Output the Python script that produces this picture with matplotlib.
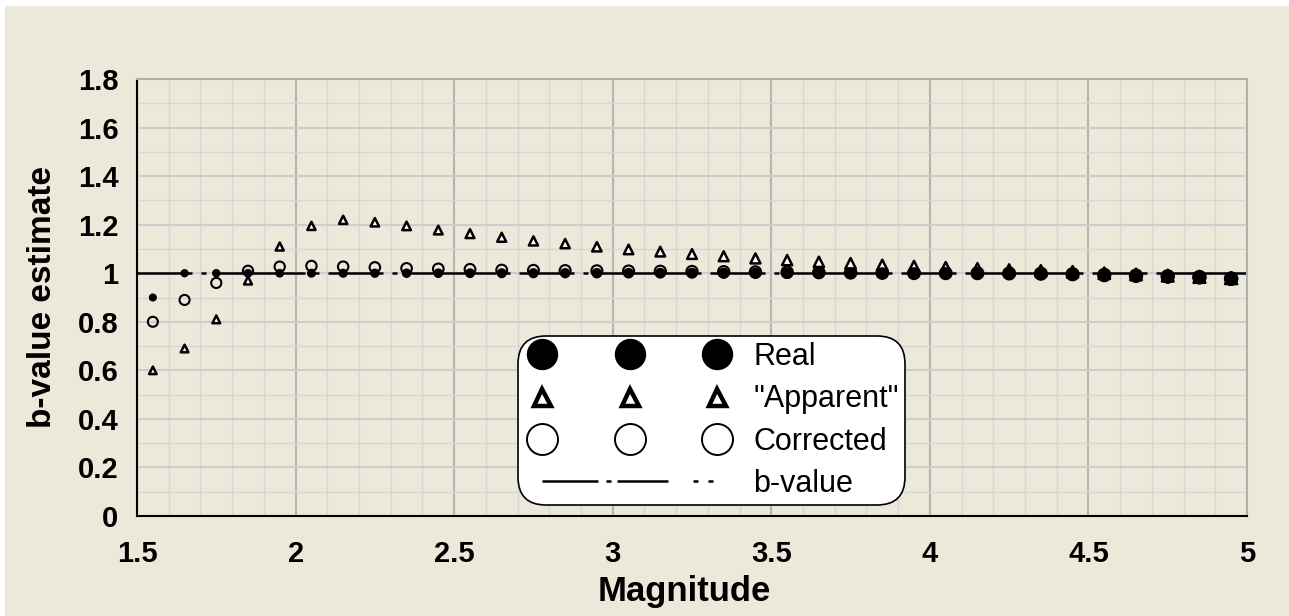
import numpy as np
import matplotlib
matplotlib.use("Agg")
import matplotlib.pyplot as plt
from matplotlib.lines import Line2D
from matplotlib.patches import Rectangle
from matplotlib.ticker import MultipleLocator
from matplotlib.legend_handler import HandlerLine2D

# ---------------- data ----------------
magnitude = [1.55, 1.65, 1.75, 1.85, 1.95, 2.05, 2.15, 2.25, 2.35, 2.45,
             2.55, 2.65, 2.75, 2.85, 2.95, 3.05, 3.15, 3.25, 3.35, 3.45,
             3.55, 3.65, 3.75, 3.85, 3.95, 4.05, 4.15, 4.25, 4.35, 4.45,
             4.55, 4.65, 4.75, 4.85, 4.95]
real = [0.90, 1.0, 1.0, 1.0, 1.0, 1.0, 1.0, 1.0, 1.0, 1.0,
        1.0, 1.0, 1.0, 1.0, 1.0, 1.0, 1.0, 1.0, 1.0, 1.0,
        1.0, 1.0, 1.0, 1.0, 1.0, 1.0, 1.0, 1.0, 0.998, 0.995,
        0.99, 0.988, 0.985, 0.982, 0.976]
apparent = [0.60, 0.69, 0.81, 0.97, 1.11, 1.195, 1.22, 1.21, 1.195, 1.178,
            1.163, 1.148, 1.133, 1.122, 1.109, 1.098, 1.089, 1.079, 1.07, 1.061,
            1.054, 1.047, 1.041, 1.034, 1.029, 1.024, 1.019, 1.014, 1.01, 1.006,
            1.0, 0.995, 0.99, 0.985, 0.98]
corrected = [0.80, 0.89, 0.96, 1.01, 1.027, 1.03, 1.027, 1.024, 1.02, 1.018,
             1.016, 1.013, 1.012, 1.011, 1.01, 1.009, 1.008, 1.007, 1.006, 1.005,
             1.004, 1.003, 1.002, 1.001, 1.0, 1.0, 1.0, 0.999, 0.998, 0.996,
             0.993, 0.99, 0.987, 0.984, 0.978]
b_value = 1.0
x_ticks = [1.5, 2, 2.5, 3, 3.5, 4, 4.5, 5]
x_tick_labels = ["1.5", "2", "2.5", "3", "3.5", "4", "4.5", "5"]
y_ticks = [0, 0.2, 0.4, 0.6, 0.8, 1.0, 1.2, 1.4, 1.6, 1.8]
y_tick_labels = ["0", "0.2", "0.4", "0.6", "0.8", "1", "1.2", "1.4", "1.6", "1.8"]
legend_labels = ["Real", '"Apparent"', "Corrected", "b-value"]

# ---------------- style ----------------
plt.rcParams["font.family"] = ["Liberation Sans", "DejaVu Sans"]
plt.rcParams["lines.scale_dashes"] = False
BG = "#ECE8DA"
DPI = 100
px = 72.0 / DPI  # points per pixel

fig = plt.figure(figsize=(12.89, 6.16), dpi=DPI, facecolor="white")
fig.patches.append(Rectangle((5 / 1289, 0), 1 - 5 / 1289, 1 - 6 / 616,
                             transform=fig.transFigure, facecolor=BG,
                             edgecolor="none", zorder=-10))
ax = fig.add_axes([137 / 1289, 1 - 516 / 616, (1247 - 137) / 1289, (516 - 79) / 616])
ax.set_facecolor(BG)

ax.set_xlim(1.5, 5)
ax.set_ylim(0, 1.8)
ax.set_xticks(x_ticks)
ax.set_xticklabels(x_tick_labels)
ax.set_yticks(y_ticks)
ax.set_yticklabels(y_tick_labels)
ax.xaxis.set_minor_locator(MultipleLocator(0.1))
ax.yaxis.set_minor_locator(MultipleLocator(0.1))
ax.tick_params(which="both", length=0)
ax.tick_params(axis="x", pad=17, labelsize=21)
ax.tick_params(axis="y", pad=13.5, labelsize=21)
for lab in ax.get_xticklabels() + ax.get_yticklabels():
    lab.set_fontweight("bold")

ax.grid(which="minor", color="#D6D6D6", linewidth=1.0 * px * 1.4)
ax.grid(which="major", axis="y", color="#CDCDCD", linewidth=1.5 * px * 1.4)
ax.grid(which="major", axis="x", color="#B5B5B5", linewidth=1.5 * px * 1.4)
ax.set_axisbelow(True)

for side in ["top", "right"]:
    ax.spines[side].set_color("#B0B0B0")
    ax.spines[side].set_linewidth(1.5)
for side in ["left", "bottom"]:
    ax.spines[side].set_color("black")
    ax.spines[side].set_linewidth(1.5)

x = np.asarray(magnitude)
t = (x - x.min()) / (x.max() - x.min())
s_real = (np.interp(t, [0, 1], [6.7, 12.5]) * px) ** 2
s_app = (np.interp(t, [0, 1], [7.5, 12.0]) * px) ** 2
s_cor = (np.interp(t, [0, 1], [10.0, 12.5]) * px) ** 2

plot_dash = (0, (55 * px, 9 * px, 5 * px, 9 * px, 90 * px, 9 * px, 5 * px, 9 * px))
legend_dash = (0, tuple(v * px for v in (56, 8, 5, 6, 51, 25, 5, 10, 5, 10)))

ax.axhline(b_value, color="black", linewidth=1.8, linestyle=plot_dash, zorder=2)
ax.scatter(magnitude, corrected, s=s_cor, facecolors="none", edgecolors="black",
           linewidths=1.5, zorder=3)
ax.scatter(magnitude, apparent, s=s_app, marker="^", facecolors="white",
           edgecolors="black", linewidths=1.8, zorder=4)
ax.scatter(magnitude, real, s=s_real, color="black", zorder=5)

ax.set_xlabel("Magnitude", fontsize=25, fontweight="bold", labelpad=5)
ax.xaxis.label.set_x((684 - 137) / 1110)
ax.set_ylabel("b-value estimate", fontsize=24, fontweight="bold", labelpad=14)

handles = [
    Line2D([], [], linestyle="", marker="o", markersize=30 * px,
           markerfacecolor="black", markeredgecolor="black"),
    Line2D([], [], linestyle="", marker="^", markersize=17 * px,
           markerfacecolor="white", markeredgecolor="black", markeredgewidth=3.2),
    Line2D([], [], linestyle="", marker="o", markersize=31 * px,
           markerfacecolor="none", markeredgecolor="black", markeredgewidth=1.4),
    Line2D([], [], color="black", linewidth=1.8, linestyle=legend_dash),
]
LFS = 22
lfs_px = LFS / px
handler = HandlerLine2D(marker_pad=18 / lfs_px, numpoints=3)
leg = ax.legend(handles, legend_labels, numpoints=3, fontsize=LFS,
                handler_map={Line2D: handler},
                loc="upper left", bbox_to_anchor=(518 / 1289, 1 - 336 / 616),
                bbox_transform=fig.transFigure,
                handlelength=211 / lfs_px, handletextpad=18 / lfs_px,
                labelspacing=0.40, borderpad=0.2, borderaxespad=0,
                frameon=True, fancybox=True, framealpha=1,
                edgecolor="black", facecolor="white")
leg.get_frame().set_linewidth(1.2)
leg.get_frame().set_boxstyle("round,pad=0,rounding_size=0.9")
leg.set_zorder(10)

fig.savefig("out.png", dpi=DPI, facecolor=fig.get_facecolor())
